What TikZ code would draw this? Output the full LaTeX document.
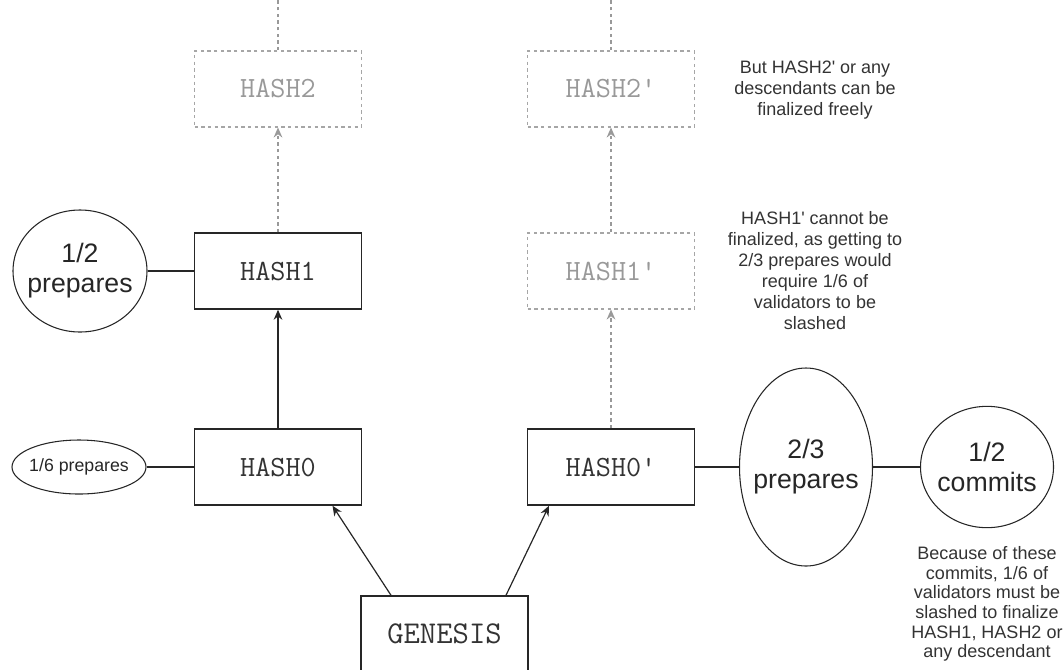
\documentclass[tikz,border=0pt]{standalone}
\usepackage{fontspec}
\setmainfont{Liberation Sans}
\usetikzlibrary{arrows.meta,shapes.geometric}

\begin{document}
\begin{tikzpicture}[x=0.75pt,y=-0.75pt,
  blk/.style={draw=black!85,line width=1.1pt,minimum width=125pt,minimum height=57pt,
    inner sep=0pt,font=\ttfamily\fontsize{22}{24}\selectfont,text=black!80},
  ghost/.style={blk,draw=black!35,dash pattern=on 2.5pt off 2.5pt,line width=0.8pt,text=black!40},
  vote/.style={ellipse,draw=black!85,line width=0.8pt,inner sep=0pt,
    label={[align=center,font=\fontsize{20}{22.5}\selectfont,text=black!85]center:#1}},
  smallvote/.style={ellipse,draw=black!85,line width=0.8pt,inner sep=0pt,
    label={[font=\fontsize{13.3}{15}\selectfont,text=black!85]center:#1}},
  note/.style={align=center,font=\fontsize{13.5}{15.75}\selectfont,text=black!80},
  link/.style={draw=black!85,line width=0.9pt},
  solidarrow/.style={link,-{Stealth[length=7.5pt,width=6.5pt]}},
  ghostline/.style={draw=black!40,line width=0.8pt,dash pattern=on 2.5pt off 2.5pt},
  ghostarrow/.style={ghostline,-{Stealth[length=7.5pt,width=6.5pt]}}]

\useasboundingbox (0,0) rectangle (1063,669);

% chain of blocks
\node[blk,font=\ttfamily\fontsize{23.8}{26}\selectfont] (genesis) at (444.5,634) {GENESIS};
\node[blk]   (h0)  at (278,467) {HASH0};
\node[blk]   (h1)  at (278,271) {HASH1};
\node[ghost] (h2)  at (278,89)  {HASH2};
\node[blk]   (h0p) at (611,467) {HASH0\textquotesingle};
\node[ghost] (h1p) at (611,271) {HASH1\textquotesingle};
\node[ghost] (h2p) at (611,89)  {HASH2\textquotesingle};

% vote counts
\node[vote={1/2\\prepares},minimum width=100.5pt,minimum height=91.5pt] (p12) at (80,271) {};
\node[smallvote={1/6 prepares},minimum width=100.5pt,minimum height=40.5pt] (p16) at (79,467) {};
\node[vote={2/3\\prepares},minimum width=99.75pt,minimum height=148.5pt] (p23) at (806,467) {};
\node[vote={1/2\\commits},minimum width=99.75pt,minimum height=91pt] (c12) at (987,467) {};

% explanations
\node[note] (n1) at (815,90) {But HASH2\textquotesingle{} or any\\descendants can be\\finalized freely};
\node[note] (n2) at (815,271) {HASH1\textquotesingle{} cannot be\\finalized, as getting to\\2/3 prepares would\\require 1/6 of\\validators to be\\slashed};
\node[note,font=\fontsize{13.5}{14.7}\selectfont] (n3) at (987,604) {Because of these\\commits, 1/6 of\\validators must be\\slashed to finalize\\HASH1, HASH2 or\\any descendant};

% parent links
\draw[solidarrow] ([xshift=-53.5*0.75pt]genesis.north) -- ([xshift=54.5*0.75pt]h0.south);
\draw[solidarrow] ([xshift=61.5*0.75pt]genesis.north) -- ([xshift=-62*0.75pt]h0p.south);
\draw[solidarrow] (h0) -- (h1);
\draw[ghostarrow] (h1) -- (h2);
\draw[ghostarrow] (h0p) -- (h1p);
\draw[ghostarrow] (h1p) -- (h2p);
\coordinate (t1) at (278,0);
\coordinate (t2) at (611,0);
\draw[ghostline] (h2) -- (t1);
\draw[ghostline] (h2p) -- (t2);

% vote attachments
\draw[link] (p12) -- (h1);
\draw[link] (p16) -- (h0);
\draw[link] (h0p) -- (p23);
\draw[link] (p23) -- (c12);
\end{tikzpicture}
\end{document}
